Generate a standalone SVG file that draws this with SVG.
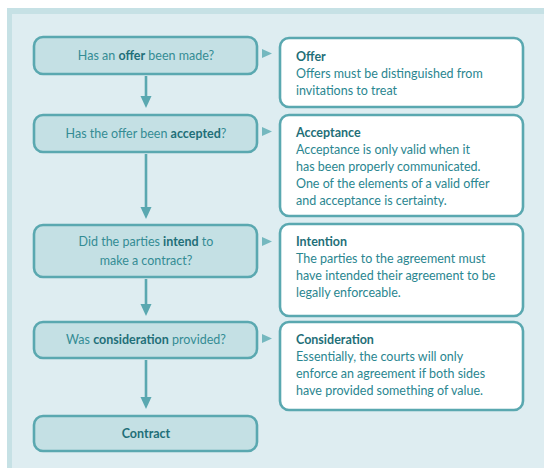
<svg xmlns="http://www.w3.org/2000/svg" width="544" height="468" viewBox="0 0 544 468">
<defs>
<style>
.q{fill:#c4e0e4;stroke:#5aa8b0;stroke-width:2.6}
.d{fill:#ffffff;stroke:#5aa8b0;stroke-width:2.6}
.qt{font-family:Lato,"Liberation Sans",sans-serif;font-size:12.5px;fill:#348c94;text-anchor:middle}
.dt{font-family:Lato,"Liberation Sans",sans-serif;font-size:12.5px;fill:#2a8690}
.b{font-weight:bold;fill:#1f6f78}
.con line{stroke:#5aa8b0;stroke-width:2.6}
.ah{fill:#5aa8b0}
.tri{fill:#74b8bf}
</style>
</defs>
<rect x="0" y="0" width="544" height="468" fill="#ffffff"/>
<rect x="7" y="8" width="537" height="460" fill="#c6e1e5"/>
<rect x="12" y="14" width="532" height="454" fill="#deedf1"/>

<g class="con" id="connectors">
<line x1="146" y1="76" x2="146" y2="97"/>
<path class="ah" d="M140.5,96 L151.5,96 L146,108 Z"/>
<line x1="146" y1="154" x2="146" y2="208"/>
<path class="ah" d="M140.5,207 L151.5,207 L146,219 Z"/>
<line x1="146" y1="279" x2="146" y2="305"/>
<path class="ah" d="M140.5,304 L151.5,304 L146,316 Z"/>
<line x1="146" y1="360" x2="146" y2="398"/>
<path class="ah" d="M140.5,397 L151.5,397 L146,409 Z"/>
<path class="tri" d="M262,49 L272,53.5 L262,58 Z"/>
<path class="tri" d="M262,127 L272,131.5 L262,136 Z"/>
<path class="tri" d="M262,237 L272,241.5 L262,246 Z"/>
<path class="tri" d="M262,334 L272,338.5 L262,343 Z"/>
</g>

<g id="q1">
<rect class="q" x="34" y="37" width="223" height="37" rx="9"/>
<text class="qt" x="146" y="60">Has an <tspan class="b">offer</tspan> been made?</text>
</g>
<g id="q2">
<rect class="q" x="34" y="115" width="223" height="37" rx="9"/>
<text class="qt" x="146" y="138">Has the offer been <tspan class="b">accepted</tspan>?</text>
</g>
<g id="q3">
<rect class="q" x="34" y="225" width="223" height="52" rx="9"/>
<text class="qt" x="146" y="246">Did the parties <tspan class="b">intend</tspan> to</text>
<text class="qt" x="146" y="265">make a contract?</text>
</g>
<g id="q4">
<rect class="q" x="34" y="322" width="223" height="36" rx="9"/>
<text class="qt" x="146" y="344">Was <tspan class="b">consideration</tspan> provided?</text>
</g>
<g id="q5">
<rect class="q" x="34" y="416" width="223" height="35" rx="9"/>
<text class="qt" x="146" y="438"><tspan class="b">Contract</tspan></text>
</g>

<g id="d1">
<rect class="d" x="280" y="38" width="243" height="69" rx="9"/>
<text class="dt" x="296" y="61"><tspan class="b">Offer</tspan></text>
<text class="dt" x="296" y="78">Offers must be distinguished from</text>
<text class="dt" x="296" y="95">invitations to treat</text>
</g>
<g id="d2">
<rect class="d" x="280" y="115" width="243" height="101" rx="9"/>
<text class="dt" x="296" y="137"><tspan class="b">Acceptance</tspan></text>
<text class="dt" x="296" y="154">Acceptance is only valid when it</text>
<text class="dt" x="296" y="171">has been properly communicated.</text>
<text class="dt" x="296" y="188">One of the elements of a valid offer</text>
<text class="dt" x="296" y="205">and acceptance is certainty.</text>
</g>
<g id="d3">
<rect class="d" x="280" y="224" width="243" height="92" rx="9"/>
<text class="dt" x="296" y="246"><tspan class="b">Intention</tspan></text>
<text class="dt" x="296" y="263">The parties to the agreement must</text>
<text class="dt" x="296" y="280">have intended their agreement to be</text>
<text class="dt" x="296" y="297">legally enforceable.</text>
</g>
<g id="d4">
<rect class="d" x="280" y="322" width="243" height="88" rx="9"/>
<text class="dt" x="296" y="344"><tspan class="b">Consideration</tspan></text>
<text class="dt" x="296" y="361">Essentially, the courts will only</text>
<text class="dt" x="296" y="378">enforce an agreement if both sides</text>
<text class="dt" x="296" y="395">have provided something of value.</text>
</g>
</svg>
